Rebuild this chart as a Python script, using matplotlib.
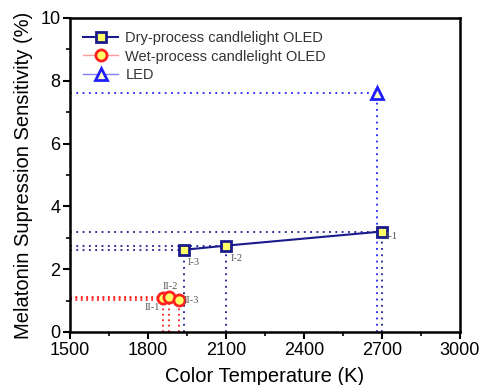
import matplotlib
matplotlib.use("Agg")
import matplotlib.pyplot as plt
from matplotlib.ticker import MultipleLocator

plt.rcParams['font.family'] = ['Liberation Sans', 'DejaVu Sans']

dry_x = [2700, 2100, 1940]
dry_y = [3.2, 2.75, 2.62]
dry_labels = ["I-1", "I-2", "I-3"]

wet_x = [1858, 1881, 1919]
wet_y = [1.08, 1.11, 1.03]
wet_labels = ["II-1", "II-2", "II-3"]

led_x = [2680]
led_y = [7.6]

navy = '#1a1a8c'
blue = '#1f1fff'
red = '#ff2020'
yellow = '#ffff66'

fig = plt.figure(figsize=(4.86, 3.85), dpi=100)
ax = fig.add_axes([70/486, 1-332/385, 390/486, 314/385])
xmin, ymin = 1500, 0

# guide lines
for x, y in zip(dry_x, dry_y):
    ax.plot([xmin, x], [y, y], ls=(0, (1, 2.5)), color=navy, lw=1.3, zorder=1)
    ax.plot([x, x], [ymin, y], ls=(0, (1, 2.5)), color=navy, lw=1.3, zorder=1)
for x, y in zip(led_x, led_y):
    ax.plot([xmin, x], [y, y], ls=(0, (1, 2.5)), color=blue, lw=1.3, zorder=1)
    ax.plot([x, x], [ymin, y], ls=(0, (1, 2.5)), color=blue, lw=1.3, zorder=1)
for x, y in zip(wet_x, wet_y):
    ax.plot([xmin, x], [y, y], ls=(0, (1, 2)), color=red, lw=1.3, zorder=1)
    ax.plot([x, x], [ymin, y], ls=(0, (1, 2)), color=red, lw=1.3, zorder=1)

ax.plot(dry_x, dry_y, '-s', color=navy, lw=1.5, ms=7, mfc=yellow, mec=navy, mew=2,
        label='Dry-process candlelight OLED', zorder=3)
ax.plot(wet_x, wet_y, '-o', color='#ff9a9a', lw=1.0, ms=8, mfc=yellow, mec=red, mew=2,
        label='Wet-process candlelight OLED', zorder=3)
ax.plot(led_x, led_y, '-^', color='#8080ff', lw=1.0, ms=8, mfc='#ffffcc', mec=blue, mew=2,
        label='LED', zorder=3)

lab_kw = dict(fontsize=7.5, family=['Liberation Serif', 'DejaVu Serif'], color='#555555')
ax.text(2715, 3.05, dry_labels[0], ha='left', va='center', **lab_kw)
ax.text(2118, 2.35, dry_labels[1], ha='left', va='center', **lab_kw)
ax.text(1952, 2.2, dry_labels[2], ha='left', va='center', **lab_kw)
ax.text(1845, 0.78, wet_labels[0], ha='right', va='center', **lab_kw)
ax.text(1885, 1.45, wet_labels[1], ha='center', va='center', **lab_kw)
ax.text(1938, 1.0, wet_labels[2], ha='left', va='center', **lab_kw)

ax.set_xlim(1500, 3000)
ax.set_ylim(0, 10)
ax.xaxis.set_major_locator(MultipleLocator(300))
ax.xaxis.set_minor_locator(MultipleLocator(150))
ax.yaxis.set_major_locator(MultipleLocator(2))
ax.yaxis.set_minor_locator(MultipleLocator(1))
ax.tick_params(which='major', direction='out', length=5, width=1.5, labelsize=13, pad=2)
ax.tick_params(which='minor', direction='out', length=3, width=1.2)
for s in ax.spines.values():
    s.set_linewidth(1.8)

ax.set_xlabel('Color Temperature (K)', fontsize=14.5, labelpad=6)
ax.set_ylabel('Melatonin Supression Sensitivity (%)', fontsize=14.5, labelpad=5)

leg = ax.legend(loc='upper left', frameon=False, fontsize=10.5, handlelength=2.4,
                borderaxespad=0.5, labelspacing=0.3, handletextpad=0.5)
for t in leg.get_texts():
    t.set_color('#333333')

fig.savefig('out.png', dpi=100)
